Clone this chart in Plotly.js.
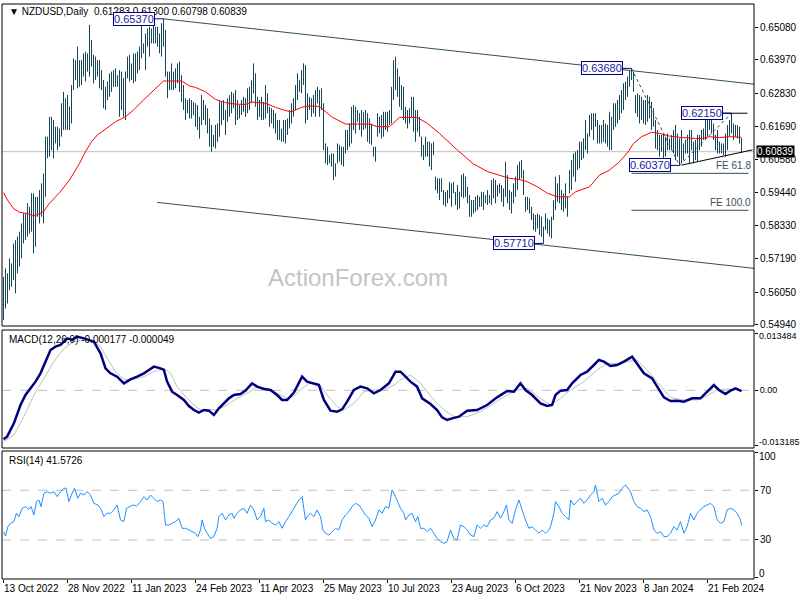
<!DOCTYPE html>
<html><head><meta charset="utf-8">
<script src="https://cdn.plot.ly/plotly-3.0.1.min.js"></script>
<style>html,body{margin:0;padding:0;background:#fff}#chart{width:800px;height:600px}</style>
</head><body><div id="chart"></div>
<script>
// ---- Daily bars (index 0 = 13 Oct 2022) ----
const barHigh = [
.5657,.5686,.5669,.5720,.5703,.5771,.5782,.5794,.5811,.5839,
.5873,.5873,.5908,.5896,.5942,.5942,.5930,.5930,.5953,.5976,
.6010,.6135,.6135,.6203,.6203,.6192,.6169,.6169,.6163,.6249,
.6288,.6266,.6277,.6237,.6311,.6402,.6396,.6442,.6396,.6396,
.6419,.6425,.6419,.6516,.6465,.6414,.6408,.6396,.6396,.6362,
.6328,.6305,.6323,.6351,.6357,.6362,.6368,.6345,.6362,.6357,
.6334,.6357,.6408,.6414,.6385,.6419,.6419,.6425,.6442,.6522,
.6453,.6487,.6504,.6510,.6504,.6522,.6510,.6510,.6487,.6522,
.6537,.6499,.6357,.6357,.6385,.6357,.6368,.6385,.6391,.6345,
.6311,.6266,.6260,.6266,.6260,.6254,.6249,.6243,.6203,.6277,
.6260,.6243,.6232,.6197,.6175,.6141,.6175,.6180,.6260,.6254,
.6260,.6226,.6266,.6277,.6288,.6283,.6294,.6260,.6243,.6260,
.6271,.6266,.6300,.6305,.6328,.6385,.6351,.6271,.6260,.6271,
.6254,.6311,.6283,.6237,.6232,.6226,.6215,.6192,.6192,.6163,
.6192,.6192,.6197,.6226,.6249,.6266,.6311,.6351,.6328,.6362,
.6385,.6379,.6283,.6271,.6266,.6277,.6294,.6305,.6294,.6300,
.6249,.6112,.6101,.6072,.6078,.6078,.6044,.6112,.6107,.6101,
.6101,.6158,.6158,.6180,.6237,.6243,.6237,.6226,.6215,.6226,
.6220,.6226,.6215,.6197,.6180,.6101,.6101,.6215,.6203,.6209,
.6220,.6220,.6220,.6226,.6305,.6396,.6408,.6368,.6340,.6311,
.6305,.6237,.6226,.6232,.6271,.6271,.6226,.6226,.6203,.6135,
.6107,.6135,.6118,.6118,.6112,.6118,.5999,.5993,.5993,.5993,
.5953,.5947,.5953,.5981,.5976,.5981,.5947,.5970,.5947,.6004,
.6010,.5999,.5964,.5936,.5919,.5919,.5930,.5936,.5930,.5947,
.5947,.5936,.5953,.5936,.5987,.5993,.5987,.5970,.5976,.5970,
.5959,.6050,.6004,.5953,.5947,.5976,.5999,.6038,.6050,.6055,
.6021,.5930,.5930,.5925,.5896,.5873,.5868,.5873,.5868,.5862,
.5828,.5873,.5856,.5851,.5862,.5919,.5999,.5976,.6004,.5953,
.5942,.5976,.5930,.6021,.6055,.6078,.6084,.6089,.6118,.6118,
.6129,.6192,.6146,.6209,.6215,.6215,.6215,.6192,.6175,.6175,
.6192,.6180,.6175,.6220,.6203,.6249,.6249,.6260,.6277,.6294,
.6317,.6323,.6340,.6362,.6368,.6357,.6277,.6283,.6277,.6271,
.6260,.6260,.6277,.6271,.6254,.6232,.6192,.6158,.6141,.6141,
.6146,.6135,.6146,.6129,.6141,.6158,.6175,.6146,.6129,.6158,
.6112,.6124,.6141,.6158,.6158,.6118,.6124,.6141,.6141,.6158,
.6163,.6209,.6197,.6192,.6215,.6180,.6141,.6158,.6118,.6112,
.6112,.6146,.6175,.6192,.6215,.6180,.6175,.6175,.6169,.61300];
const barLow = [
.5510,.5549,.5566,.5612,.5623,.5646,.5601,.5669,.5692,.5720,
.5771,.5782,.5794,.5805,.5811,.5737,.5760,.5862,.5839,.5862,
.5839,.5930,.6061,.6067,.6089,.6061,.6112,.6089,.6101,.6135,
.6158,.6158,.6158,.6158,.6180,.6294,.6328,.6300,.6305,.6311,
.6340,.6323,.6357,.6340,.6374,.6317,.6328,.6340,.6300,.6294,
.6232,.6226,.6260,.6271,.6288,.6305,.6305,.6305,.6203,.6226,
.6203,.6192,.6334,.6323,.6328,.6317,.6323,.6351,.6362,.6402,
.6419,.6362,.6442,.6408,.6453,.6453,.6453,.6442,.6419,.6408,
.6442,.6340,.6266,.6294,.6294,.6294,.6300,.6317,.6288,.6254,
.6226,.6192,.6215,.6197,.6197,.6209,.6169,.6158,.6129,.6175,
.6192,.6175,.6146,.6101,.6084,.6101,.6095,.6118,.6135,.6175,
.6192,.6141,.6186,.6203,.6215,.6232,.6175,.6192,.6197,.6209,
.6220,.6203,.6215,.6226,.6249,.6283,.6237,.6192,.6203,.6192,
.6192,.6197,.6215,.6169,.6180,.6163,.6146,.6124,.6124,.6118,
.6118,.6112,.6141,.6163,.6180,.6203,.6226,.6260,.6288,.6283,
.6311,.6180,.6192,.6226,.6203,.6215,.6203,.6249,.6203,.6226,
.6089,.6044,.6038,.6044,.6033,.5987,.5999,.6044,.6050,.6038,
.6033,.6078,.6089,.6101,.6112,.6158,.6146,.6186,.6158,.6135,
.6158,.6163,.6118,.6112,.6107,.6067,.6050,.6135,.6146,.6129,
.6135,.6158,.6152,.6175,.6180,.6260,.6294,.6271,.6237,.6226,
.6192,.6180,.6163,.6180,.6203,.6152,.6118,.6152,.6135,.6067,
.6055,.6067,.6067,.6033,.6021,.6072,.5953,.5942,.5919,.5947,
.5902,.5896,.5908,.5925,.5896,.5942,.5902,.5885,.5890,.5930,
.5925,.5930,.5908,.5862,.5862,.5873,.5879,.5885,.5896,.5896,
.5885,.5908,.5902,.5908,.5902,.5925,.5908,.5930,.5942,.5913,
.5896,.5930,.5908,.5885,.5873,.5908,.5930,.5953,.5987,.5993,
.5936,.5879,.5885,.5873,.5851,.5817,.5811,.5822,.5800,.5794,
.5771,.5817,.5805,.5794,.5788,.5851,.5885,.5913,.5908,.5885,
.5879,.5890,.5862,.5942,.5953,.5999,.5981,.6021,.6027,.6055,
.6061,.6089,.6078,.6135,.6158,.6124,.6169,.6112,.6112,.6112,
.6118,.6112,.6101,.6089,.6089,.6158,.6169,.6180,.6192,.6215,
.6226,.6260,.6271,.6305,.6328,.6288,.6215,.6203,.6180,.6192,
.6180,.6175,.6186,.6197,.6158,.6169,.6095,.6089,.6067,.6084,
.6061,.6067,.6089,.6089,.6089,.6078,.6055,.6067,.6037,.6044,
.6055,.6078,.6078,.6044,.6089,.6044,.6055,.6050,.6089,.6101,
.6124,.6124,.6135,.6158,.6146,.6124,.6089,.6078,.6078,.6078,
.6072,.6067,.6089,.6135,.6146,.6124,.6135,.6129,.6112,.60798];
const lastOHLC = [0.61283, 0.61300, 0.60798, 0.60839];

// ---- Moving average (red) ----
const maX = [0,2,5,8,12,15,18,20,23,28,33,38,41,44,47,52,56,61,65,70,75,80,85,89,93,96,101,106,111,116,121,124,131,136,141,144,149,153,158,164,171,176,183,187,193,198,207,212,218,227,235,242,248,253,258,262,267,272,277,283,286,293,298,303,308,312,315,319,324,328,333,339,346,349,353,358,363,369];
const maY = [.5944,.5919,.5890,.5877,.5873,.5864,.5873,.5880,.5908,.5944,.5987,.6044,.6084,.6118,.6141,.6167,.6186,.6203,.6226,.6260,.6294,.6325,.6325,.6325,.6308,.6303,.6288,.6262,.6251,.6246,.6245,.6253,.6249,.6235,.6224,.6220,.6235,.6240,.6238,.6203,.6178,.6177,.6178,.6169,.6169,.6201,.6200,.6180,.6146,.6089,.6042,.6016,.6004,.5993,.5989,.5981,.5964,.5942,.5930,.5930,.5947,.5964,.6004,.6021,.6050,.6080,.6112,.6135,.6150,.6146,.6137,.6132,.6129,.6129,.6135,.6132,.6135,.6133];

// ---- MACD(12,26,9) ----
const macdX = [0,1.8,5.2,8.5,11,13.5,16,18.5,21,23.5,26,28.5,30.2,31.8,34.3,36.8,40.2,42.7,45.2,48.5,51,53.5,56.8,60.2,63.5,66.8,70.2,72.7,75.2,78.5,80.2,81.8,84.3,86.8,90.2,92.7,95.2,97.7,100.2,102.7,105.2,107.7,110.2,112.7,115.2,118.5,121,124.3,126.8,130.2,133.5,136.8,139.3,141.8,145.2,147.7,149.3,151.8,155.2,157.7,160.2,163.5,166.8,169.3,171.8,175.2,178.5,181.8,185.2,188.5,192.7,196,198.5,201,203.5,206.8,209.3,213.5,216.8,219.3,221.8,224.3,227.7,231.8,236.8,241.8,246.8,251.8,255.2,258.5,261,264.3,268.5,271.8,274.3,276,278.5,281.8,284.3,288.5,291.8,295.2,297.7,300.2,303.5,306.8,310.2,314.3,316.8,320.2,324.3,326.8,330.2,333.5,336.8,340.2,344.3,348.5,351.8,355.2,357.7,361,363.5,366,369];
const macdY = [-0.01161,-0.01098,-0.00782,-0.00348,-0.00111,0.00047,0.00205,0.00403,0.00679,0.00956,0.01035,0.01074,0.01153,0.01232,0.01193,0.01272,0.01232,0.01193,0.01153,0.00877,0.00521,0.00403,0.00324,0.00166,0.00261,0.00324,0.00403,0.00482,0.00561,0.00521,0.00482,0.00205,-0.00032,-0.00111,-0.00229,-0.00371,-0.00466,-0.00529,-0.00466,-0.00482,-0.00585,-0.00427,-0.00308,-0.0019,-0.00111,-0.00087,-0.00008,0.00166,0.00087,0.00032,0.00008,-0.00111,-0.00229,-0.00229,-0.00055,0.00166,0.00324,0.00205,0.00166,0.00126,-0.00229,-0.00482,-0.00506,-0.0045,-0.00269,0.00008,0.00087,0.00047,-0.00071,0.00008,0.00166,0.00442,0.00442,0.00324,0.00205,0.00087,-0.0019,-0.00324,-0.00466,-0.0064,-0.00703,-0.00664,-0.00624,-0.00482,-0.00466,-0.00348,-0.00166,-0.00016,-0.00032,0.00166,0.00008,-0.00111,-0.00308,-0.00371,-0.00348,-0.00111,-0.00008,0.00008,0.00166,0.00363,0.00442,0.006,0.00719,0.00679,0.00577,0.006,0.00679,0.00798,0.0064,0.00403,0.00284,0.00087,-0.00166,-0.00253,-0.00245,-0.00269,-0.0019,-0.0019,-0.00032,0.00126,0.00008,-0.00087,-0.00008,0.00047,-0.00018];
const sigX = [0,5.2,10.2,15.2,20.2,25.2,30.2,35.2,40.2,45.2,48.5,51.8,56,60.2,65.2,70.2,75.2,80.2,83.5,86.8,91,95.2,98.5,102.7,106.8,111.8,116.8,121.8,126.8,131.8,136.8,141.8,145.2,149.3,153.5,157.7,161.8,166.8,170.2,175.2,180.2,185.2,190.2,195.2,198.5,203.5,208.5,215.2,220.2,225.2,231.8,238.5,245.2,251.8,256.8,261.8,268.5,273.5,278.5,283.5,290.2,296.8,301.8,306.8,311.8,316.8,321.8,326.8,333.5,340.2,346.8,351.8,356.8,361.8,366.8,369];
const sigY = [-0.01217,-0.01059,-0.00624,-0.00111,0.00284,0.00679,0.00995,0.01153,0.01193,0.01177,0.01035,0.00758,0.00442,0.00261,0.00261,0.00324,0.00442,0.00521,0.00403,0.00087,-0.0015,-0.00348,-0.00466,-0.0045,-0.00466,-0.00348,-0.0019,-0.00071,0.00087,0.00047,-0.00071,-0.0019,-0.0015,0.00047,0.00182,0.00166,-0.00111,-0.00387,-0.00466,-0.00308,-0.00032,0.00008,0.00008,0.00126,0.00245,0.00363,0.00166,-0.00229,-0.00466,-0.00624,-0.00624,-0.00506,-0.00308,-0.00111,0.00008,0.00047,-0.0019,-0.00348,-0.0019,0.00008,0.00205,0.00482,0.0064,0.0064,0.00679,0.00719,0.00482,0.00205,-0.00166,-0.00229,-0.00229,-0.00134,0.00008,0.00032,0.00008,-0.00005];
const macdLast = ['-0.000177', '-0.000049'];

// ---- RSI(14) ----
const rsiX = [0,1,2.2,3.5,5.2,6.5,7.7,9.3,11,12.7,13.8,15.2,16.5,17.7,18.8,20.2,21.8,23.5,25.2,26.8,28.5,30.2,31.3,32.7,34.3,35.5,37.2,38.5,40.2,41.8,43.5,45.2,47.2,48.5,50.2,51.8,53.5,55.2,56.8,58.5,60.2,61.5,63.2,64.8,66.5,68.2,70.2,71.8,73.5,75.2,76.8,78.5,79.8,81,82.7,84.3,86,87.7,89.3,91,92.7,94.3,96,97.2,98.5,99.3,100.5,101.8,103.5,105.2,106.8,107.7,109.3,111,112.7,114.3,115.2,116.8,118.5,120.2,121.8,123.5,125.2,126.8,128.5,130.2,131,132.7,134.3,136,137.7,139.3,141,142.7,144.3,146,147.7,149.3,151,151.8,153.5,155.2,156.8,158.5,159.7,161,162.7,164.3,166,167.7,169.3,171,172.7,174.3,176,177.7,179.3,181,182.7,184.3,186,187.7,189.3,191,192.7,194.3,195.2,196.8,198.5,
200.2,201,202.7,204.3,206,207.2,208.5,210.2,211.8,213.5,215.2,216.8,218.5,220.2,221.8,223.5,225.2,226.8,228.5,230.2,231.8,233.5,235.2,236.8,238.5,240.2,241.8,243.5,245.2,246.8,248.5,250.2,251.5,252.7,254.3,256,257.7,259.3,261,262.7,264.3,266,267.7,269.3,271,272.7,273.5,275.2,276,277.7,279.3,281,282.7,283.5,285.2,286.8,288.5,290.2,291.8,293.5,295.2,296,297.7,299.3,301,302.7,304.3,306,307.7,309.3,311,313.5,315.2,316.8,318.5,320.2,321.8,323.5,325.2,326.8,328.5,330.2,331.8,333.5,335.2,336.8,338.5,340.2,341.8,343.5,345.2,346.8,348.5,350.2,351.8,353.5,355.2,356.8,358.5,360.2,361.8,363.5,365.2,366.8,368.5,369];
const rsiY = [36.7,33.2,40.7,43.4,44.8,51.5,48.8,55.5,56.9,54.7,56.9,50.1,60.9,62.2,56.9,67.6,68.9,67.6,68.9,64.9,68.9,71.6,71.6,60.9,67.6,71.6,63.6,67.6,66.2,68.9,66.2,59.5,58.2,55.5,48.8,51.5,51.5,54.2,58.2,46.1,44.8,55.5,56.9,58.2,57.4,60.1,64.9,62.2,66.2,63.6,60.9,62.2,60.9,42.1,42.1,43.4,44.8,47.5,39.4,39.4,38.1,36.7,35.4,32.7,38.1,46.1,39.4,35.4,31.3,32.7,39.4,48.8,51.5,46.1,50.1,51.5,47.5,51.5,54.2,55.5,51.5,58.2,54.2,46.1,48.8,55.5,44.8,46.1,43.4,42.1,44.8,39.4,44.8,48.8,52.8,56.9,62.2,64.9,46.1,48.8,51.5,48.8,54.2,48.8,38.1,35.4,34.0,36.7,39.4,38.1,46.1,50.1,52.8,56.9,59.5,58.2,54.2,50.1,47.5,40.7,46.1,54.2,51.5,56.9,55.5,70.3,67.6,62.2,55.5,
51.5,46.1,50.1,51.5,44.8,48.8,39.4,39.4,36.7,39.4,35.4,31.3,28.7,27.3,28.7,38.1,31.3,30.0,42.1,40.7,38.1,34.0,32.7,42.1,39.4,42.1,40.7,46.1,47.5,52.8,47.5,52.8,58.2,46.1,43.4,54.2,62.2,54.2,46.1,39.4,40.7,38.1,35.4,38.1,35.4,38.1,40.7,51.5,60.9,56.9,51.5,48.8,46.1,62.2,58.2,60.9,63.6,59.5,62.2,66.2,68.9,74.3,60.9,63.6,58.2,60.9,64.9,66.2,67.6,71.6,74.3,68.9,60.9,56.9,55.5,52.8,54.2,48.8,38.1,35.4,36.7,32.7,32.7,35.4,40.7,38.1,44.8,35.4,40.7,51.5,46.1,51.5,54.2,56.9,58.2,59.5,56.9,46.1,43.4,44.8,54.2,55.5,54.2,51.5,46.1,41.6];
const rsiLast = '41.5726';
const rsiLevels = [70, 30];

// ---- Drawn objects (anchors in bar index / price) ----
const chanUpX = [80, 375.25], chanUpY = [0.6537, 0.6314];
const chanLoX = [76.85, 375.25], chanLoY = [0.5911, 0.5686];
const feX = [314, 338, 364], feY = [0.6368, 0.6037, 0.6215];
const feLevels = [0.6010, 0.5884], feNames = ['FE 61.8', 'FE 100.0'], feSpan = [314, 372.5];
const triTopX = [339, 372], triTopY = [0.6215, 0.6215];
const triBotX = [339, 374.5], triBotY = [0.6038, 0.6090];
const labelBars = [80, 314, 338, 270, 364], labelPrices = [0.6537, 0.6368, 0.6037, 0.5771, 0.6215];

// ---- Axes ----
const tickBars = [0,32,64,96,128,160,192,224,256,288,320,352];
const dateLabels = ['13 Oct 2022','28 Nov 2022','11 Jan 2023','24 Feb 2023','11 Apr 2023','25 May 2023','10 Jul 2023','23 Aug 2023','6 Oct 2023','21 Nov 2023','8 Jan 2024','21 Feb 2024'];
const priceTicks = [0.65080,0.63970,0.62830,0.61690,0.60580,0.59440,0.58330,0.57190,0.56050,0.54940];
const macdTicks = [0.013484, 0, -0.013185], macdTickText = ['0.013484','0.00','-0.013185'];
const rsiTicks = [0,30,70,100];

const FONT = 'Liberation Sans, Arial, sans-serif';
const bx = [], by = [];
for (let i = 0; i < barHigh.length; i++) { bx.push(i, i, null); by.push(barLow[i], barHigh[i], null); }

const traces = [
  {x: bx, y: by, mode: 'lines', line: {color: '#184659', width: 1}, xaxis: 'x', yaxis: 'y', hoverinfo: 'skip'},
  {x: maX, y: maY, mode: 'lines', line: {color: '#ff0000', width: 1}, yaxis: 'y'},
  {x: chanUpX, y: chanUpY, mode: 'lines', line: {color: '#2f4f4f', width: 1}, yaxis: 'y'},
  {x: chanLoX, y: chanLoY, mode: 'lines', line: {color: '#2f4f4f', width: 1}, yaxis: 'y'},
  {x: feX, y: feY, mode: 'lines', line: {color: '#3a4a50', width: 1, dash: '3px,3px'}, yaxis: 'y'},
  {x: feSpan, y: [feLevels[0], feLevels[0]], mode: 'lines', line: {color: '#2f4f4f', width: 1}, yaxis: 'y'},
  {x: feSpan, y: [feLevels[1], feLevels[1]], mode: 'lines', line: {color: '#2f4f4f', width: 1}, yaxis: 'y'},
  {x: triTopX, y: triTopY, mode: 'lines', line: {color: '#000000', width: 1}, yaxis: 'y'},
  {x: triBotX, y: triBotY, mode: 'lines', line: {color: '#000000', width: 1}, yaxis: 'y'},
  {x: sigX, y: sigY, mode: 'lines', line: {color: '#c0c0c0', width: 1}, yaxis: 'y2'},
  {x: macdX, y: macdY, mode: 'lines', line: {color: '#000080', width: 2.5}, yaxis: 'y2'},
  {x: rsiX, y: rsiY, mode: 'lines', line: {color: '#1e90ff', width: 1}, yaxis: 'y3'}
];

const domP = [0.44, 1], domM = [0.2278, 0.4330], domR = [0, 0.2226];
const shapes = [];
[domP, domM, domR].forEach(d => shapes.push({type: 'rect', xref: 'paper', yref: 'paper', x0: 0, x1: 1, y0: d[0], y1: d[1], line: {color: '#000', width: 1}, layer: 'above'}));
shapes.push({type: 'line', xref: 'paper', x0: 0, x1: 1, yref: 'y', y0: lastOHLC[3], y1: lastOHLC[3], line: {color: '#c0c0c0', width: 1}, layer: 'below'});
shapes.push({type: 'line', xref: 'paper', x0: 0, x1: 1, yref: 'y2', y0: 0, y1: 0, line: {color: '#c0c0c0', width: 1, dash: 'dash'}, layer: 'below'});
rsiLevels.forEach(v => shapes.push({type: 'line', xref: 'paper', x0: 0, x1: 1, yref: 'y3', y0: v, y1: v, line: {color: '#c0c0c0', width: 1, dash: 'dash'}, layer: 'below'}));

const annotations = [
  {xref: 'paper', yref: 'paper', x: 0, y: 1, xanchor: 'left', yanchor: 'top', xshift: 5, yshift: 0, showarrow: false,
   text: '\u25BC NZDUSD,Daily\u00a0\u00a0' + lastOHLC.map(v => v.toFixed(5)).join(' '), font: {family: FONT, size: 10, color: '#000'}},
  {xref: 'paper', yref: 'paper', x: 0, y: domM[1], xanchor: 'left', yanchor: 'top', xshift: 5, yshift: -2, showarrow: false,
   text: 'MACD(12,26,9) ' + macdLast.join(' '), font: {family: FONT, size: 10, color: '#000'}},
  {xref: 'paper', yref: 'paper', x: 0, y: domR[1], xanchor: 'left', yanchor: 'top', xshift: 5, yshift: -2, showarrow: false,
   text: 'RSI(14) ' + rsiLast, font: {family: FONT, size: 10, color: '#000'}},
  {xref: 'paper', yref: 'paper', x: 0.4734, y: 0.5252, xanchor: 'center', yanchor: 'middle', showarrow: false,
   text: 'ActionForex.com', font: {family: FONT, size: 24, color: '#c4c4c4'}},
  {xref: 'paper', yref: 'y', x: 1, y: lastOHLC[3], xanchor: 'left', yanchor: 'middle', xshift: 2, showarrow: false,
   text: lastOHLC[3].toFixed(5), bgcolor: '#000', borderpad: 0, font: {family: FONT, size: 10, color: '#fff'}}
];
// window edge labels (MT4 keeps them inside the sub-window)
const edgeLabels = [
  {axis: 'y2', v: macdTicks[0], t: macdTickText[0], s: -3, f: 9},
  {axis: 'y2', v: macdTicks[2], t: macdTickText[2], s: 4, f: 9},
  {axis: 'y3', v: rsiTicks[3], t: String(rsiTicks[3]), s: -4, f: 10},
  {axis: 'y3', v: rsiTicks[0], t: String(rsiTicks[0]), s: 4, f: 10}
];
edgeLabels.forEach(e => annotations.push({xref: 'paper', yref: e.axis, x: 1, y: e.v, xanchor: 'left', yanchor: 'middle',
  xshift: 4, yshift: e.s, showarrow: false, text: e.t, borderpad: 0, font: {family: FONT, size: e.f, color: '#000'}}));
labelBars.forEach((b, i) => annotations.push({
  x: b, y: labelPrices[i], xref: 'x', yref: 'y', text: labelPrices[i].toFixed(5),
  showarrow: true, arrowhead: 0, arrowwidth: 1, arrowcolor: '#000080', ax: -30, ay: 0,
  bordercolor: '#000080', borderwidth: 1, borderpad: 0, bgcolor: '#ffffff',
  font: {family: FONT, size: 11, color: '#22229a'}
}));
feNames.forEach((n, i) => annotations.push({x: 374.5, y: feLevels[i], xref: 'x', yref: 'y', xanchor: 'right', yanchor: 'bottom',
  showarrow: false, text: n, font: {family: FONT, size: 10, color: '#3c4e5c'}}));

const yCommon = {side: 'right', anchor: 'x', showgrid: false, zeroline: false, showline: false, ticks: 'outside', ticklen: 3, tickcolor: '#000',
  tickfont: {family: FONT, size: 10, color: '#000'}, fixedrange: true};

const layout = {
  width: 800, height: 600,
  margin: {l: 2, r: 46, t: 4, b: 21},
  paper_bgcolor: '#fff', plot_bgcolor: '#fff', showlegend: false,
  font: {family: FONT, size: 10, color: '#000'},
  xaxis: {range: [-0.75, 375.25], anchor: 'y3', tickvals: tickBars, ticktext: dateLabels, ticks: 'outside', ticklen: 3, tickcolor: '#000',
    tickangle: 0, ticklabelposition: 'outside right', showgrid: false, zeroline: false, showline: false, automargin: false,
    tickfont: {family: FONT, size: 10, color: '#000'}},
  yaxis: Object.assign({}, yCommon, {domain: domP, range: [0.54894, 0.65875], tickvals: priceTicks, ticktext: priceTicks.map(v => v.toFixed(5))}),
  yaxis2: Object.assign({}, yCommon, {domain: domM, range: [-0.01367, 0.01429], tickvals: macdTicks, ticktext: ['', macdTickText[1], ''],
    tickfont: {family: FONT, size: 9, color: '#000'}}),
  yaxis3: Object.assign({}, yCommon, {domain: domR, range: [-1.39, 101.6], tickvals: rsiTicks, ticktext: ['', '30', '70', '']}),
  shapes: shapes, annotations: annotations
};

Plotly.newPlot('chart', traces, layout, {staticPlot: true, displayModeBar: false});
</script>
</body></html>
